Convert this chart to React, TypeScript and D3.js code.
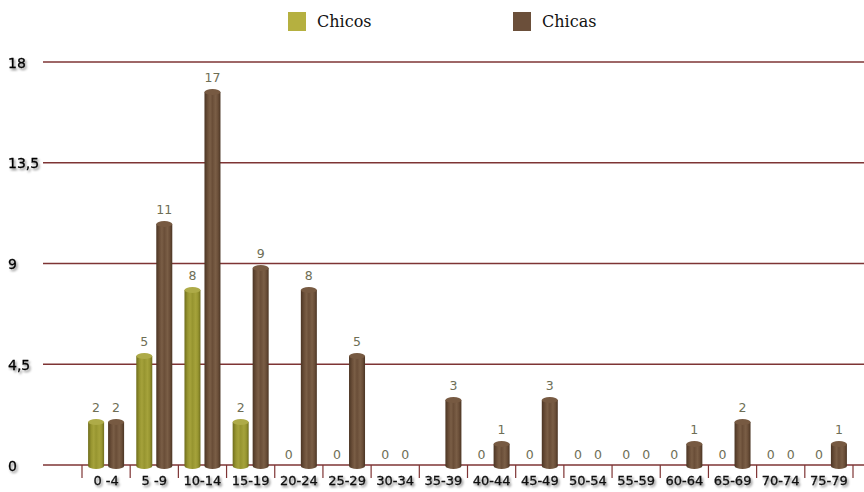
import React from "react";
import * as d3 from "d3";

const categories = ["0 -4", "5 -9", "10-14", "15-19", "20-24", "25-29", "30-34", "35-39", "40-44", "45-49", "50-54", "55-59", "60-64", "65-69", "70-74", "75-79"];
const chicos: (number | null)[] = [2, 5, 8, 2, 0, 0, 0, null, 0, 0, 0, 0, 0, 0, 0, 0];
const chicas: (number | null)[] = [2, 11, 17, 9, 8, 5, 0, 3, 1, 3, 0, 0, 1, 2, 0, 1];
const yTicks = [0, 4.5, 9, 13.5, 18];
const seriesNames = ["Chicos", "Chicas"];

const W = 864;
const H = 492;

const x = d3.scaleBand<string>().domain(categories).range([82, 853]).padding(0);
// grid plane
const y = d3.scaleLinear().domain([0, 18]).range([465, 62]);
// bars sit slightly in front of the grid plane (3D depth)
const yBar = d3.scaleLinear().domain([0, 18]).range([466, 70]);
const fmt = (v: number) => String(v).replace(".", ",");

const BW = 16;
const RY = 3;

const palettes = [
  { id: "gChicos", dark: "#6f6d1c", mid: "#979530", light: "#a5a23b", top: "#aeab48", legend: "#b5b040" },
  { id: "gChicas", dark: "#4b3524", mid: "#6a4e38", light: "#7a5e46", top: "#775a42", legend: "#6b4f3a" },
];

function Cylinder({ cx, v, p }: { cx: number; v: number; p: typeof palettes[0] }) {
  const top = yBar(v);
  const base = yBar(0);
  return (
    <g>
      <rect x={cx - BW / 2} y={top} width={BW} height={base - top} fill={`url(#${p.id})`} />
      <ellipse cx={cx} cy={base} rx={BW / 2} ry={RY} fill={`url(#${p.id})`} />
      <ellipse cx={cx} cy={top} rx={BW / 2} ry={RY} fill={p.top} />
    </g>
  );
}

export default function App() {
  const series = [chicos, chicas];
  const offsets = [-10, 10];
  return (
    <svg width={W} height={H} style={{ position: "absolute", left: 0, top: 0, background: "#fff" }}>
      <defs>
        {palettes.map((p) => (
          <linearGradient key={p.id} id={p.id} x1="0" x2="1" y1="0" y2="0">
            <stop offset="0" stopColor={p.dark} />
            <stop offset="0.2" stopColor={p.mid} />
            <stop offset="0.35" stopColor={p.light} />
            <stop offset="0.5" stopColor={p.mid} />
            <stop offset="0.7" stopColor={p.light} />
            <stop offset="0.85" stopColor={p.mid} />
            <stop offset="1" stopColor={p.dark} />
          </linearGradient>
        ))}
        <filter id="txtShadow" x="-20%" y="-20%" width="150%" height="160%">
          <feDropShadow dx="1.5" dy="2" stdDeviation="1.2" floodColor="#000" floodOpacity="0.45" />
        </filter>
        <filter id="lineShadow" x="-5%" y="-200%" width="110%" height="500%">
          <feGaussianBlur stdDeviation="1" />
        </filter>
      </defs>

      {/* legend */}
      {seriesNames.map((n, i) => (
        <g key={n} transform={`translate(${[288, 513][i]},12)`}>
          <rect width={18} height={19} fill={palettes[i].legend} />
          <text x={29} y={15} fontFamily="DejaVu Serif" fontSize={16} fill="#111">
            {n}
          </text>
        </g>
      ))}

      {/* grid lines */}
      {yTicks.map((t) => (
        <g key={t}>
          <line x1={43} x2={W} y1={y(t) + 2.5} y2={y(t) + 2.5} stroke="#d9c4c4" strokeWidth={2.5} filter="url(#lineShadow)" />
          <line x1={43} x2={W} y1={y(t)} y2={y(t)} stroke="#7e3434" strokeWidth={1.5} />
          <text x={8} y={y(t) + 5.5} fontFamily="DejaVu Sans" fontSize={14} fill="#000" stroke="#000" strokeWidth={0.3} filter="url(#txtShadow)">
            {fmt(t)}
          </text>
        </g>
      ))}

      {/* category ticks */}
      {[...categories.map((c) => x(c)!), x.range()[1]].map((px, i) => (
        <line key={i} x1={px} x2={px} y1={y(0)} y2={y(0) + 13} stroke="#7e3434" strokeWidth={1.2} />
      ))}
      {categories.map((c) => (
        <text key={c} x={x(c)! + x.bandwidth() / 2} y={y(0) + 20} textAnchor="middle" fontFamily="DejaVu Sans" fontSize={13} fill="#111" stroke="#111" strokeWidth={0.3} filter="url(#txtShadow)">
          {c}
        </text>
      ))}

      {/* bars */}
      {series.map((vals, si) =>
        vals.map((v, i) => {
          if (v === null) return null;
          const cx = x(categories[i])! + x.bandwidth() / 2 + offsets[si];
          return (
            <g key={`${si}-${i}`}>
              {v > 0 && <Cylinder cx={cx} v={v} p={palettes[si]} />}
              <text x={cx} y={v > 0 ? yBar(v) - 10 : y(0) - 6} textAnchor="middle" fontFamily="DejaVu Sans" fontSize={12.5} fill="#6e6e55">
                {v}
              </text>
            </g>
          );
        })
      )}
    </svg>
  );
}
